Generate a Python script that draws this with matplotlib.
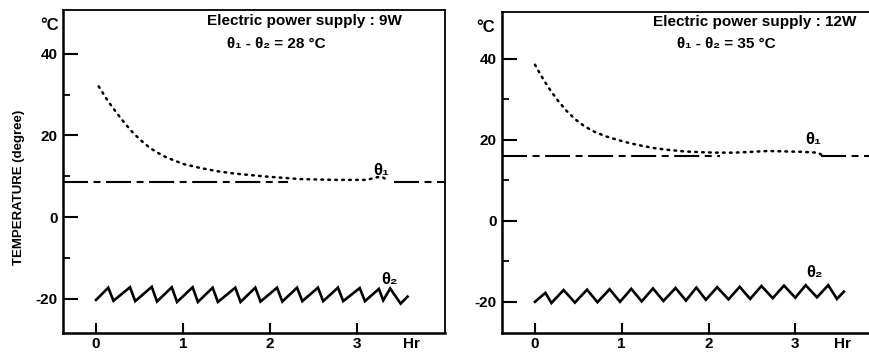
import matplotlib.pyplot as plt

plt.rcParams['font.family'] = ['Liberation Sans', 'DejaVu Sans']
plt.rcParams['font.weight'] = 'bold'
plt.rcParams['axes.unicode_minus'] = False
plt.rcParams['lines.scale_dashes'] = False

# theta1 (dotted decay) and theta2 (zigzag) readings, hours / degC
# left panel: 9 W
t1_a = [0.03, 0.13, 0.24, 0.34, 0.43, 0.53, 0.62, 0.72, 0.81, 1.0, 1.2, 1.4,
        1.57, 1.76, 1.96, 2.15, 2.34, 2.53, 2.72, 2.9, 3.11, 3.22, 3.28, 3.36]
v1_a = [32.0, 28.6, 25.4, 22.7, 20.5, 18.5, 16.9, 15.6, 14.6, 13.0, 12.0, 11.2,
        10.7, 10.3, 9.9, 9.6, 9.3, 9.2, 9.1, 9.1, 9.1, 9.7, 9.9, 8.9]
t2_a = [0.0, 0.14, 0.20, 0.39, 0.45, 0.64, 0.70, 0.87, 0.93, 1.11, 1.17, 1.34,
        1.40, 1.60, 1.66, 1.83, 1.89, 2.08, 2.14, 2.31, 2.37, 2.55, 2.61, 2.78,
        2.84, 3.03, 3.09, 3.25, 3.30, 3.38, 3.50, 3.58]
v2_a = [-20.3, -17.3, -20.5, -17.2, -20.6, -17.1, -20.7, -17.2, -20.8, -17.2,
        -20.8, -17.3, -20.8, -17.3, -20.8, -17.3, -20.7, -17.3, -20.7, -17.3,
        -20.6, -17.3, -20.6, -17.3, -20.6, -17.4, -20.6, -17.6, -20.4, -17.5,
        -21.2, -19.5]
ref_a = 8.6
ref_a_x = [[-0.38, 2.2], [3.42, 4.01]]

# right panel: 12 W
t1_b = [0.0, 0.05, 0.11, 0.19, 0.27, 0.36, 0.46, 0.57, 0.69, 0.82, 0.96, 1.10,
        1.23, 1.38, 1.53, 1.72, 1.92, 2.10, 2.30, 2.50, 2.68, 2.88, 3.07, 3.26, 3.30]
v1_b = [38.5, 36.6, 34.4, 31.8, 29.5, 27.2, 25.1, 23.3, 21.9, 20.8, 19.9, 19.1,
        18.5, 17.9, 17.5, 17.1, 16.9, 16.8, 16.8, 17.0, 17.2, 17.1, 17.0, 16.8, 16.3]
t2_b = [0.0, 0.12, 0.19, 0.33, 0.46, 0.60, 0.72, 0.86, 0.98, 1.11, 1.23, 1.36,
        1.48, 1.62, 1.74, 1.86, 1.97, 2.10, 2.23, 2.36, 2.48, 2.61, 2.74, 2.87,
        3.00, 3.12, 3.25, 3.38, 3.48, 3.56]
v2_b = [-20.0, -17.8, -20.3, -17.1, -20.2, -17.0, -20.1, -16.9, -20.0, -16.8,
        -19.9, -16.7, -19.8, -16.6, -19.7, -16.5, -19.5, -16.4, -19.4, -16.3,
        -19.3, -16.1, -19.1, -16.0, -19.0, -15.9, -18.9, -15.9, -19.3, -17.5]
ref_b = 16.0
ref_b_x = [[-0.38, 2.13], [3.3, 4.3]]

panels = [
    dict(pos=[63 / 870, 21 / 354, 382 / 870, 323 / 354], xlim=(-0.38, 4.01),
         ylim=(-28.4, 50.7), t1=t1_a, v1=v1_a, t2=t2_a, v2=v2_a, ref=ref_a,
         ref_x=ref_a_x, power='Electric power supply : 9W', diff='28',
         txt1=(1.28, 49.6), txt2=(1.51, 44.2), lab1=(3.28, 11.4),
         lab2=(3.37, -15.2), hr=3.63, right=True, deg=(50, 25)),
    dict(pos=[502 / 870, 21 / 354, 400 / 870, 321 / 354], xlim=(-0.38, 4.23),
         ylim=(-27.7, 51.5), t1=t1_b, v1=v1_b, t2=t2_b, v2=v2_b, ref=ref_b,
         ref_x=ref_b_x, power='Electric power supply : 12W', diff='35',
         txt1=(1.36, 50.8), txt2=(1.64, 45.3), lab1=(3.21, 20.0),
         lab2=(3.22, -12.8), hr=3.54, right=False, deg=(486, 27)),
]

fig = plt.figure(figsize=(8.7, 3.54), dpi=100)

for p in panels:
    ax = fig.add_axes(p['pos'])
    ax.set_xlim(*p['xlim'])
    ax.set_ylim(*p['ylim'])

    for xs in p['ref_x']:
        ax.plot(xs, [p['ref'], p['ref']], color='black', lw=1.5,
                linestyle=(0, (18, 4, 5, 4)))
    ax.plot(p['t1'], p['v1'], color='black', lw=1.8, linestyle=(0, (1.2, 3.8)),
            dash_capstyle='round')
    ax.plot(p['t2'], p['v2'], color='black', lw=1.9, solid_joinstyle='miter')

    for s in ['left', 'bottom']:
        ax.spines[s].set_linewidth(1.8)
    ax.spines['top'].set_linewidth(1.3)
    ax.spines['right'].set_linewidth(1.3)
    ax.spines['right'].set_visible(p['right'])

    ax.set_yticks([-20, 0, 20, 40])
    ax.set_yticks([-10, 10, 30], minor=True)
    ax.set_xticks([0, 1, 2, 3, p['hr']], ['0', '1', '2', '3', 'Hr'])
    ax.xaxis.get_major_ticks()[-1].tick1line.set_visible(False)
    ax.tick_params(axis='y', which='major', direction='in', length=11, width=1.5,
                   labelsize=11, pad=4)
    ax.tick_params(axis='y', which='minor', direction='in', length=5, width=1.3)
    ax.tick_params(axis='x', which='major', direction='in', length=7, width=1.5,
                   labelsize=11, pad=3)

    ax.text(*p['txt1'], p['power'], fontsize=11, ha='left', va='top')
    ax.text(*p['txt2'], 'θ₁ - θ₂ = ' + p['diff'] + ' °C', fontsize=11,
            ha='left', va='top')
    ax.text(*p['lab1'], 'θ₁', fontsize=12, ha='center', va='center')
    ax.text(*p['lab2'], 'θ₂', fontsize=12, ha='center', va='center')

    fig.text(p['deg'][0] / 870, 1 - p['deg'][1] / 354, '°C', fontsize=12,
             ha='center', va='center')

fig.text(19 / 870, 1 - 187 / 354, 'TEMPERATURE (degree)', fontsize=9.5,
         rotation=90, ha='center', va='center')

fig.savefig('out.png', dpi=100)
